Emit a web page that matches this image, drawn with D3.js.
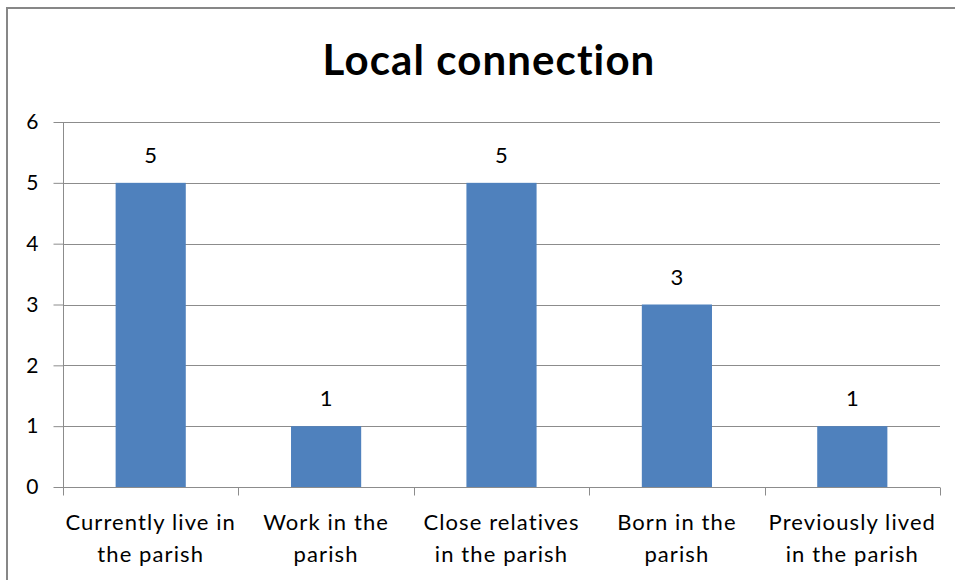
<!DOCTYPE html>
<html><head><meta charset="utf-8">
<script src="https://cdn.jsdelivr.net/npm/d3@7"></script>
<style>body{margin:0;background:#fff}svg{display:block}text{font-family:Lato,"Open Sans",sans-serif;fill:#000}</style>
</head><body>
<svg id="c" width="955" height="580"></svg>
<script>
const title = "Local connection";
const categories = [["Currently live in","the parish"],["Work in the","parish"],["Close relatives","in the parish"],["Born in the","parish"],["Previously lived","in the parish"]];
const values = [5,1,5,3,1];
const yTicks = [0,1,2,3,4,5,6];

(function(){
const svg = d3.select("#c");
svg.append("rect").attr("x",7).attr("y",8).attr("width",1000).attr("height",1000)
  .attr("fill","#fff").attr("stroke","#878787").attr("stroke-width",2);

const pl=63, pr=940, pt=122, pb=487;
const x = d3.scaleBand().domain(d3.range(categories.length)).range([pl,pr]).padding(0);
const y = d3.scaleLinear().domain([0,6]).range([pb,pt]);

svg.append("g").selectAll("line").data(yTicks.filter(d=>d>0)).join("line")
  .attr("x1",pl).attr("x2",pr).attr("y1",d=>Math.round(y(d))+0.5).attr("y2",d=>Math.round(y(d))+0.5)
  .attr("stroke","#8c8c8c").attr("stroke-width",1);

const bw = x.bandwidth()*0.4;
svg.append("g").selectAll("rect").data(values).join("rect")
  .attr("x",(d,i)=>x(i)+x.bandwidth()/2-bw/2).attr("width",bw)
  .attr("y",d=>y(d)).attr("height",d=>y(0)-y(d)).attr("fill","#4F81BD");

const ya = svg.append("g").attr("transform",`translate(${pl+0.5},0)`)
  .call(d3.axisLeft(y).tickValues(yTicks).tickSize(10).tickPadding(15).tickFormat(d3.format("d")));
ya.select(".domain").attr("stroke","#8c8c8c").attr("d",`M0,${pt}V${pb}`);
ya.selectAll(".tick line").attr("stroke","#8c8c8c");
ya.selectAll(".tick text").attr("font-size",21).attr("font-family","Lato,'Open Sans',sans-serif").attr("fill","#000");

const xa = svg.append("g").attr("transform",`translate(0,${pb+0.5})`);
xa.append("line").attr("x1",pl).attr("x2",pr).attr("stroke","#8c8c8c");
xa.selectAll("line.t").data(d3.range(categories.length+1)).join("line").attr("class","t")
  .attr("x1",i=>Math.round(pl+i*x.step())+0.5).attr("x2",i=>Math.round(pl+i*x.step())+0.5).attr("y1",0).attr("y2",8)
  .attr("stroke","#8c8c8c");
const lab = svg.append("g").selectAll("text").data(categories).join("text")
  .attr("text-anchor","middle").attr("font-size",22).attr("letter-spacing",1.1)
  .attr("x",(d,i)=>x(i)+x.bandwidth()/2).attr("y",530);
lab.selectAll("tspan").data(d=>d).join("tspan")
  .attr("x",function(){return this.parentNode.getAttribute("x");})
  .attr("dy",(d,i)=>i?32:0).text(d=>d);

svg.append("g").selectAll("text").data(values).join("text")
  .attr("text-anchor","middle").attr("font-size",22)
  .attr("x",(d,i)=>x(i)+x.bandwidth()/2).attr("y",d=>y(d)-20).text(d=>d);

svg.append("text").attr("x",489).attr("y",75).attr("text-anchor","middle")
  .attr("font-size",42).attr("letter-spacing",1.1).attr("font-weight","bold").text(title);
})();
</script>
</body></html>
